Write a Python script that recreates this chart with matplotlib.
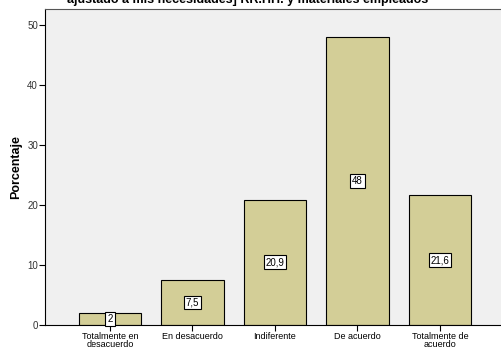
import matplotlib
matplotlib.use("Agg")
from matplotlib import pyplot as plt
import numpy as np

plt.rcParams['font.family'] = ['Liberation Sans', 'DejaVu Sans']

categories = ["Totalmente en\ndesacuerdo", "En desacuerdo", "Indiferente",
              "De acuerdo", "Totalmente de\nacuerdo"]
values = [2, 7.5, 20.9, 48, 21.6]
value_labels = ["2", "7,5", "20,9", "48", "21,6"]
yticks = [0, 10, 20, 30, 40, 50]

fig = plt.figure(figsize=(5.01, 3.47), dpi=100)
ax = fig.add_axes([45/501, 22/347, 456/501, 316/347])
ax.set_facecolor('#F0F0F0')

x = np.arange(len(categories))
ax.bar(x, values, width=0.76, color='#D3CE97', edgecolor='black', linewidth=0.8, zorder=2)

for xi, v, lab in zip(x, values, value_labels):
    ax.text(xi, v / 2, lab, ha='center', va='center', fontsize=7, zorder=3,
            bbox=dict(boxstyle='square,pad=0.2', facecolor='white', edgecolor='black', linewidth=0.8))

ax.set_xlim(-0.787, 4.74)
ax.set_ylim(0, 52.7)
ax.set_yticks(yticks)
ax.set_xticks(x)
ax.set_xticklabels(categories, fontsize=6.5, linespacing=0.9)
ax.tick_params(axis='y', labelsize=7, length=4, width=0.8, pad=1, labelcolor='#333333')
ax.tick_params(axis='x', length=4, width=0.8, pad=1)

ax.spines['left'].set_color('black')
ax.spines['bottom'].set_color('black')
ax.spines['top'].set_color('#555555')
ax.spines['right'].set_visible(False)

ax.set_ylabel("Porcentaje", fontsize=9, fontweight='bold', labelpad=4)

fig.text(248/501, 1 - 0/347, "ajustado a mis necesidades] RR.HH. y materiales empleados",
         ha='center', va='center', fontsize=9, fontweight='bold')

fig.savefig("out.png", dpi=100)
